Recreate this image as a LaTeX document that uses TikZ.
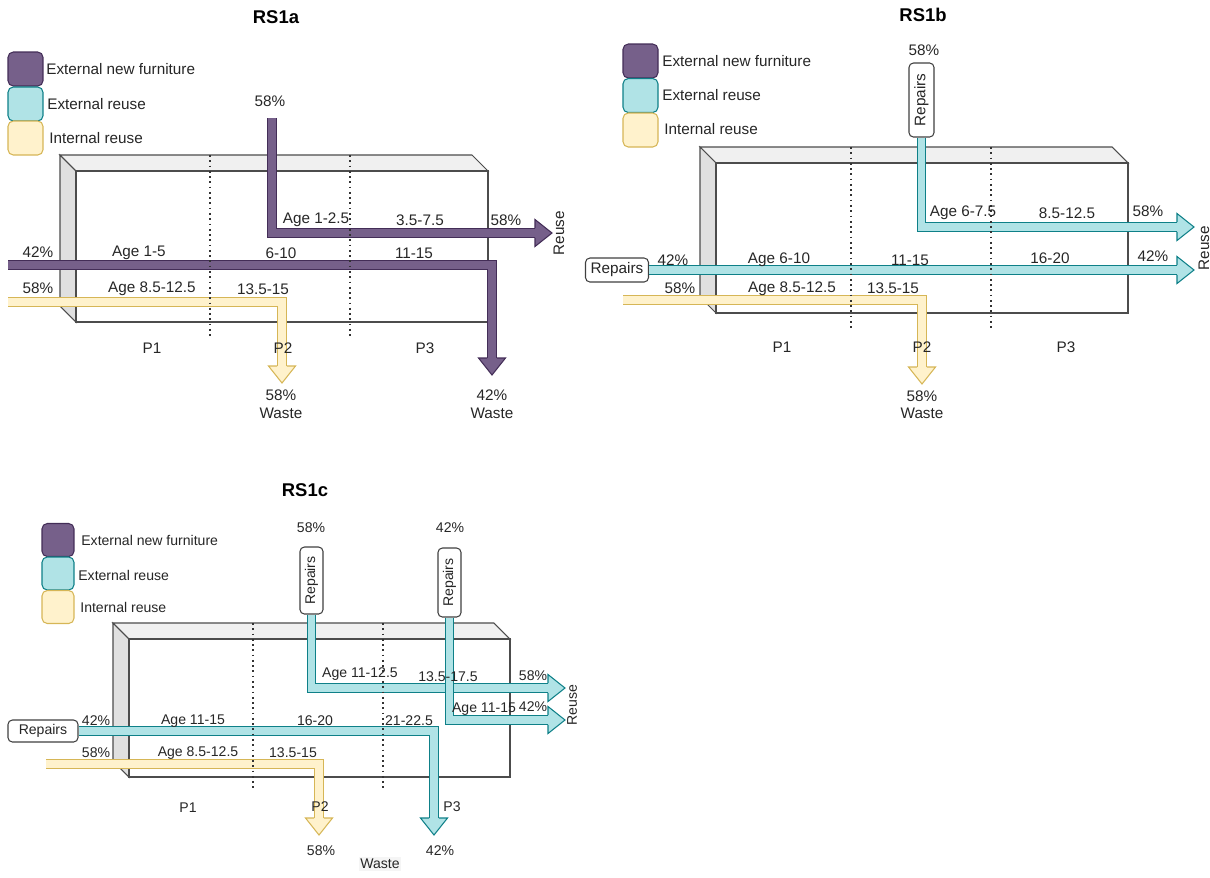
\documentclass[tikz,border=0pt]{standalone}
\usepackage{fontspec}
\setmainfont{Liberation Sans}
\definecolor{pfill}{HTML}{76608A}
\definecolor{pline}{HTML}{432D57}
\definecolor{tfill}{HTML}{B0E3E6}
\definecolor{tline}{HTML}{0E8088}
\definecolor{yfill}{HTML}{FFF2CC}
\definecolor{yline}{HTML}{D6B656}
\begin{document}
\begin{tikzpicture}[x=0.02cm, y=-0.02cm]
\tikzset{
  txt/.style={
    font=\fontsize{8.7}{10}\selectfont,
    inner sep=0pt,
    text=black!85
  },
  small/.style={
    font=\fontsize{8}{9.5}\selectfont,
    inner sep=0pt,
    text=black!85
  },
  title/.style={
    font=\fontsize{10.5}{12}\selectfont\bfseries
  },
  legend/.style={
    draw,
    rounded corners=3pt,
    line width=0.6pt,
    minimum width=0.7cm,
    minimum height=0.68cm
  },
  repairs/.style={
    draw=black!75,
    fill=white,
    rounded corners=2.5pt,
    inner sep=0pt,
    line width=0.6pt
  },
  flow/.style={
    line width=0.6pt,
    double distance=4.4pt
  },
  flowp/.style={flow, draw=pline, double=pfill},
  flowt/.style={flow, draw=tline, double=tfill},
  flowy/.style={flow, draw=yline, double=yfill},
  headp/.style={draw=pline, fill=pfill, line width=0.6pt},
  headt/.style={draw=tline, fill=tfill, line width=0.6pt},
  heady/.style={draw=yline, fill=yfill, line width=0.6pt},
  cubeline/.style={draw=black!70, line width=0.6pt},
  cubetop/.style={cubeline, fill=black!6},
  cubeside/.style={cubeline, fill=black!12},
  divider/.style={
    dotted,
    line width=1pt,
    black!80
  }
}

% arrow heads, #1 style, #2 base of the head
\newcommand{\headright}[2]{
  \filldraw[#1] (#2) ++(0,4.8) -- ++(0,8.7) -- ++(17,-13.5) -- ++(-17,-13.5) -- ++(0,8.7);
}
\newcommand{\headdown}[2]{
  \filldraw[#1] (#2) ++(4.8,0) -- ++(8.7,0) -- ++(-13.5,17) -- ++(-13.5,-17) -- ++(8.7,0);
}
% box in perspective: back left x, back top y, front right x, front bottom y
\newcommand{\cabinet}[4]{
  \filldraw[cubetop] (#1,#2) -- ({#3-16},#2) -- (#3,{#2+16}) -- ({#1+16},{#2+16}) -- cycle;
  \filldraw[cubeside] (#1,#2) -- ({#1+16},{#2+16}) -- ({#1+16},#4) -- (#1,{#4-16}) -- cycle;
  \draw[cubeline] ({#1+16},{#2+16}) rectangle (#3,#4);
}

\useasboundingbox (0,0) rectangle (1210,877);

% RS1a
\node (atitle) [title] at (276,17) {RS1a};
\node (alegp) [legend, fill=pfill, draw=pline] at (25.5,69) {};
\node (alegt) [legend, fill=tfill, draw=tline] at (25.5,104) {};
\node (alegy) [legend, fill=yfill, draw=yline] at (25.5,138) {};
\node (alegpt) [txt, anchor=west] at (46,69) {External new furniture};
\node (alegtt) [txt, anchor=west] at (47,104) {External reuse};
\node (alegyt) [txt, anchor=west] at (49,138) {Internal reuse};

\cabinet{60}{155}{488}{322}

\coordinate (a1s) at (272,118);
\coordinate (a1h) at (535,233);
\coordinate (a2s) at (8,265);
\coordinate (a2h) at (492,358);
\coordinate (a3s) at (8,302);
\coordinate (a3h) at (282,366);

\draw[flowy] (a3s) -| (a3h); \headdown{heady}{a3h}
\draw[flowp] (a2s) -| (a2h); \headdown{headp}{a2h}
\draw[flowp] (a1s) |- (a1h); \headright{headp}{a1h}

\foreach \x in {210,350}
  \draw[divider] (\x,155) -- (\x,337);

\node (atop) [txt] at (270,101) {58\%};
\node (aage1) [txt] at (316,220) {Age 1-2.5};
\node (aage2) [txt] at (420,220) {3.5-7.5};
\node (aout1) [txt] at (506,220) {58\%};
\node (areuse) [txt, rotate=90] at (559,233) {Reuse};
\node (ain2) [txt] at (38,252) {42\%};
\node (aage3) [txt] at (139,253) {Age 1-5};
\node (aage4) [txt] at (281,253) {6-10};
\node (aage5) [txt] at (414,253) {11-15};
\node (ain3) [txt] at (38,288) {58\%};
\node (aage6) [txt] at (152,289) {Age 8.5-12.5};
\node (aage7) [txt] at (263,289) {13.5-15};
\node (ap1) [txt] at (152,348) {P1};
\node (ap2) [txt] at (283,348) {P2};
\node (ap3) [txt] at (425,348) {P3};
\node (aout3) [txt] at (281,395) {58\%};
\node (awaste3) [txt] at (281,413) {Waste};
\node (aout2) [txt] at (492,395) {42\%};
\node (awaste2) [txt] at (492,413) {Waste};

% RS1b
\node (btitle) [title] at (923,15) {RS1b};
\node (blegp) [legend, fill=pfill, draw=pline] at (640.5,61) {};
\node (blegt) [legend, fill=tfill, draw=tline] at (640.5,95.5) {};
\node (blegy) [legend, fill=yfill, draw=yline] at (640.5,130) {};
\node (blegpt) [txt, anchor=west] at (662,61) {External new furniture};
\node (blegtt) [txt, anchor=west] at (662,95) {External reuse};
\node (blegyt) [txt, anchor=west] at (664,129) {Internal reuse};

\cabinet{700}{147}{1128}{313}

\node (brep1) [repairs, txt, rotate=90, minimum width=1.48cm, minimum height=0.5cm] at (921.5,100) {Repairs};
\node (brep2) [repairs, txt, minimum width=1.26cm, minimum height=0.48cm] at (617,270) {Repairs};
\coordinate (b1h) at (1177,227);
\coordinate (b2h) at (1177,270);
\coordinate (b3s) at (623,300);
\coordinate (b3h) at (922,367);

\draw[flowy] (b3s) -| (b3h); \headdown{heady}{b3h}
\draw[flowt] (brep2.east) -- (b2h); \headright{headt}{b2h}
\draw[flowt] (brep1.west) |- (b1h); \headright{headt}{b1h}

\foreach \x in {851,991}
  \draw[divider] (\x,147) -- (\x,328);

\node (btop) [txt] at (924,50) {58\%};
\node (bage1) [txt] at (963,213) {Age 6-7.5};
\node (bage2) [txt] at (1067,213) {8.5-12.5};
\node (bout1) [txt] at (1148,211) {58\%};
\node (bin2) [txt] at (673,260) {42\%};
\node (bage3) [txt] at (779,260) {Age 6-10};
\node (bage4) [txt] at (910,260) {11-15};
\node (bage5) [txt] at (1050,258) {16-20};
\node (bout2) [txt] at (1153,256) {42\%};
\node (breuse) [txt, rotate=90] at (1204,248) {Reuse};
\node (bin3) [txt] at (680,288) {58\%};
\node (bage6) [txt] at (792,289) {Age 8.5-12.5};
\node (bage7) [txt] at (893,288) {13.5-15};
\node (bp1) [txt] at (782,347) {P1};
\node (bp2) [txt] at (922,347) {P2};
\node (bp3) [txt] at (1066,347) {P3};
\node (bout3) [txt] at (922,396) {58\%};
\node (bwaste) [txt] at (922,413) {Waste};

% RS1c
\node (ctitle) [title] at (305,490) {RS1c};
\node (clegp) [legend, fill=pfill, draw=pline, minimum width=0.64cm, minimum height=0.66cm] at (58,540) {};
\node (clegt) [legend, fill=tfill, draw=tline, minimum width=0.64cm, minimum height=0.66cm] at (58,573.5) {};
\node (clegy) [legend, fill=yfill, draw=yline, minimum width=0.64cm, minimum height=0.66cm] at (58,607) {};
\node (clegpt) [small, anchor=west] at (81,540) {External new furniture};
\node (clegtt) [small, anchor=west] at (78,575) {External reuse};
\node (clegyt) [small, anchor=west] at (80,607) {Internal reuse};

\cabinet{113}{623}{510}{777}

\node (crep1) [repairs, small, rotate=90, minimum width=1.34cm, minimum height=0.46cm] at (311.5,580.5) {Repairs};
\node (crep2) [repairs, small, rotate=90, minimum width=1.38cm, minimum height=0.46cm] at (449.5,582.5) {Repairs};
\node (crep3) [repairs, small, minimum width=1.4cm, minimum height=0.44cm] at (43,731) {Repairs};
\coordinate (c1h) at (548,688);
\coordinate (c2h) at (548,720);
\coordinate (c3h) at (434,818);
\coordinate (c4s) at (46,764);
\coordinate (c4h) at (319,818);

\draw[flowy] (c4s) -| (c4h); \headdown{heady}{c4h}
\draw[flowt] (crep3.east) -| (c3h); \headdown{headt}{c3h}
\draw[flowt] (crep1.west) |- (c1h); \headright{headt}{c1h}
\draw[flowt] (crep2.west) |- (c2h); \headright{headt}{c2h}

\foreach \x in {253,383}
  \draw[divider] (\x,623) -- (\x,790);

\node (ctop1) [small] at (311,528) {58\%};
\node (ctop2) [small] at (450,528) {42\%};
\node (cage1) [small] at (360,674) {Age 11-12.5};
\node (cage2) [small] at (448,677) {13.5-17.5};
\node (cout1) [small] at (533,676) {58\%};
\node (cage3) [small] at (484,709) {Age 11-15};
\node (cout2) [small] at (533,707) {42\%};
\node (creuse) [small, rotate=90] at (572,705) {Reuse};
\node (cin3) [small] at (96,721) {42\%};
\node (cage4) [small] at (193,721) {Age 11-15};
\node (cage5) [small] at (315,721) {16-20};
\node (cage6) [small] at (409,721) {21-22.5};
\node (cin4) [small] at (96,753) {58\%};
\node (cage7) [small] at (198,753) {Age 8.5-12.5};
\node (cage8) [small] at (293,753) {13.5-15};
\node (cp1) [small] at (188,808) {P1};
\node (cp2) [small] at (320,807) {P2};
\node (cp3) [small] at (452,807) {P3};
\node (cout4) [small] at (321,851) {58\%};
\node (cout3) [small] at (440,851) {42\%};
\node (cwaste) [small, fill=black!4, inner sep=1pt] at (380,864) {Waste};

\end{tikzpicture}
\end{document}
